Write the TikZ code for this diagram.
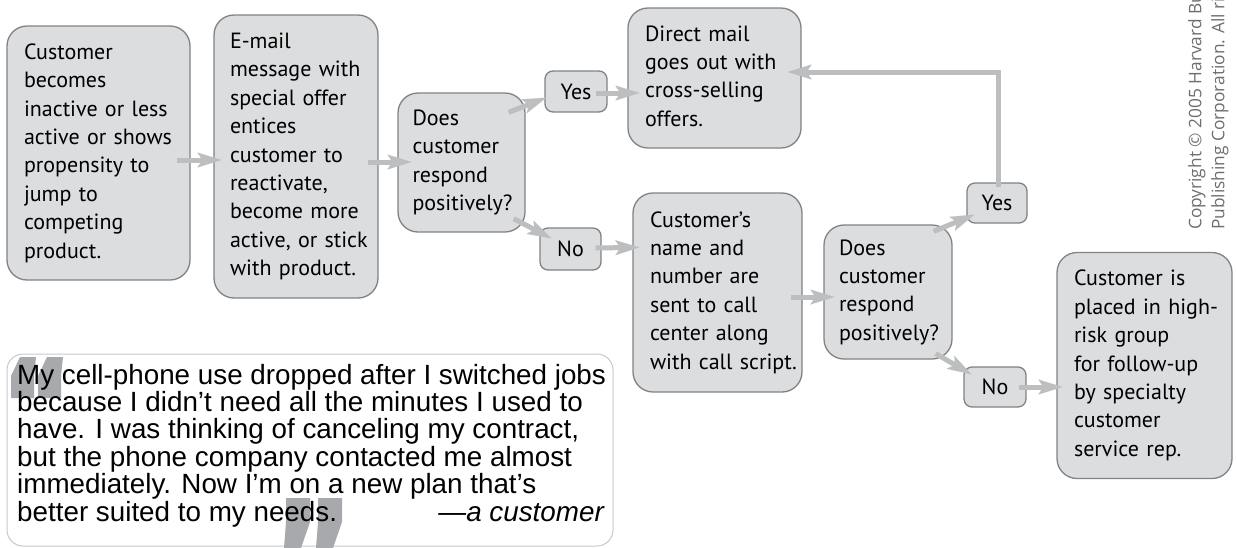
\documentclass[tikz,border=0pt]{standalone}
\usepackage{fontspec}
\newfontfamily\boxfont{PT Sans}
\newfontfamily\creditfont{Open Sans}
\newfontfamily\quotefont{Liberation Sans}
\usetikzlibrary{arrows.meta,calc}
\definecolor{boxfill}{HTML}{DCDDDE}
\definecolor{boxline}{HTML}{808285}
\definecolor{arrowgray}{HTML}{BCBEC0}
\definecolor{quoteline}{HTML}{C7C8CA}
\definecolor{markgray}{HTML}{A7A9AC}
\definecolor{creditgray}{HTML}{6D6E71}
% one unbreakable line per row inside a box
\newcommand{\boxlines}[1]{\begin{tabular}{@{}l@{}}#1\end{tabular}}
\begin{document}
\begin{tikzpicture}[x=1pt,y=-1pt,
  card/.style={draw=boxline, fill=boxfill, line width=1.3pt, rounded corners=20pt,
    font=\boxfont\fontsize{22}{28.4}\selectfont, align=left, inner sep=0pt},
  answer/.style={draw=boxline, fill=boxfill, line width=1.3pt, rounded corners=8pt,
    font=\boxfont\fontsize{22}{28.4}\selectfont, inner sep=0pt},
  flow/.style={draw=arrowgray, line width=5pt, line join=miter,
    -{Stealth[length=24pt, width=15pt, inset=5pt, line width=0.01pt]}},
  quotebox/.style={draw=quoteline, fill=white, line width=1pt, rounded corners=16pt, inner sep=0pt},
  quotetext/.style={font=\quotefont\fontsize{27.8}{27.4}\selectfont, inner sep=0pt}
]
\useasboundingbox (0,0) rectangle (1237,547);
\clip (0,0) rectangle (1237,547);

% --- flowchart boxes ---
\node[card, minimum width=183pt, minimum height=254pt, text width=149pt] (A) at (98.5,153)
  {\boxlines{Customer\\becomes\\inactive or less\\active or shows\\propensity to\\jump to\\competing\\product.}};
\node[card, minimum width=164pt, minimum height=283pt, text width=132pt] (B) at (296,156.5)
  {\boxlines{E-mail\\message with\\special offer\\entices\\customer to\\reactivate,\\become more\\active, or stick\\with product.}};
\node[card, minimum width=127pt, minimum height=139pt, text width=98pt] (C) at (461.5,162.5)
  {\boxlines{Does\\customer\\respond\\positively?}};
\node[answer, minimum width=62pt, minimum height=41pt] (Y1) at (576,91.5) {Yes};
\node[card, minimum width=173pt, minimum height=140pt, text width=139pt] (D) at (714.5,78)
  {\boxlines{Direct mail\\goes out with\\cross-selling\\offers.}};
\node[answer, minimum width=61pt, minimum height=42pt] (N1) at (570.5,249) {No};
\node[card, minimum width=169pt, minimum height=199pt, text width=135pt] (E) at (717.5,292.5)
  {\boxlines{Customer’s\\name and\\number are\\sent to call\\center along\\with call script.}};
\node[card, minimum width=128pt, minimum height=134pt, text width=98pt] (F) at (888,292)
  {\boxlines{Does\\customer\\respond\\positively?}};
\node[answer, minimum width=60pt, minimum height=40pt] (Y2) at (997,203) {Yes};
\node[answer, minimum width=62pt, minimum height=40pt] (N2) at (995,387) {No};
\node[card, minimum width=175pt, minimum height=226pt, text width=141pt] (G) at (1144.5,365.5)
  {\boxlines{Customer is\\placed in high-\\risk group\\for follow-up\\by specialty\\customer\\service rep.}};

% --- connectors ---
\draw[flow] ($(A.east)+(-14,7)$) -- ($(B.west)+(8,3.5)$);
\draw[flow] ($(B.east)+(-11,5.5)$) -- ($(C.west)+(14,-0.5)$);
\draw[flow] ($(C.north east)+(-17,20)$) -- ($(Y1.south west)+(2,-15)$);
\draw[flow] ($(Y1.east)+(-12,1.5)$) -- ($(D.west)+(12,15)$);
\draw[flow] ($(C.south east)+(-12,-14)$) -- ($(N1.north west)+(12,11)$);
\draw[flow] ($(N1.east)+(-6,-1)$) -- ($(E.north west)+(7,55)$);
\draw[flow] ($(E.east)+(-12,4.5)$) -- ($(F.west)+(11,5)$);
\draw[flow] ($(F.north east)+(-19,7)$) -- ($(Y2.south west)+(8,-9)$);
\draw[flow] ($(Y2.north)+(1,5)$) |- ($(D.east)+(-14,-6)$);
\draw[flow] ($(F.south east)+(-17,-6)$) -- ($(N2.north west)+(8,8)$);
\draw[flow] ($(N2.east)+(-8,0)$) -- ($(G.west)+(6,21.5)$);

% --- customer quote ---
\node[quotebox, minimum width=606pt, minimum height=192pt] (Q) at (310,450) {};
% opening quotation mark
\foreach \x in {11,38}{
  \fill[markgray] (\x,398) -- (\x+23,398) -- (\x+23,376) -- (\x+25,357) -- (\x+9,357) -- (\x,376) -- cycle;
}
% closing quotation mark
\foreach \x in {286,318}{
  \fill[markgray] (\x,498) -- (\x+24,498) -- (\x+24,522) -- (\x+15,548) -- (\x-2,548) -- (\x,522) -- cycle;
}
\node[quotetext, anchor=north west, align=left] (QT) at (17,363.7)
  {My cell-phone use dropped after I switched jobs\\because I didn’t need all the minutes I used to\\have. I was thinking of canceling my contract,\\but the phone company contacted me almost\\immediately. Now I’m on a new plan that’s\\better suited to my needs.};
\node[quotetext, anchor=base east, font=\quotefont\itshape\fontsize{27.8}{27.4}\selectfont] (QA) at (604,521) {—a customer};

% --- credit line ---
\node[rotate=90, anchor=north west, inner sep=0pt, align=left, text=creditgray,
  font=\creditfont\fontsize{17.3}{23}\selectfont] (credit) at (1188,230)
  {Copyright © 2005 Harvard Business School\\Publishing Corporation. All rights reserved.};
\end{tikzpicture}
\end{document}
